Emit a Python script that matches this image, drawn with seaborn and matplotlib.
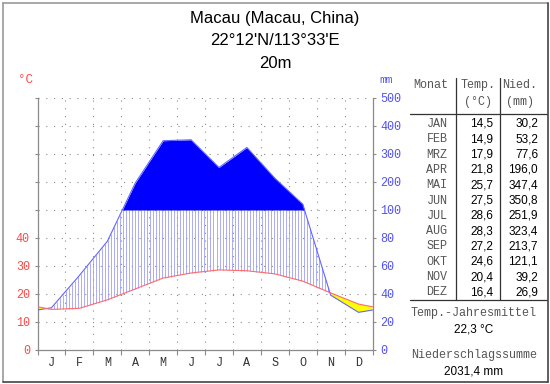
import numpy as np
import pandas as pd
import seaborn as sns
import matplotlib.pyplot as plt

# climate data for Macau
monate = ['JAN', 'FEB', 'MRZ', 'APR', 'MAI', 'JUN', 'JUL', 'AUG', 'SEP', 'OKT', 'NOV', 'DEZ']
buchstaben = ['J', 'F', 'M', 'A', 'M', 'J', 'J', 'A', 'S', 'O', 'N', 'D']
temp = [14.5, 14.9, 17.9, 21.8, 25.7, 27.5, 28.6, 28.3, 27.2, 24.6, 20.4, 16.4]
nied = [30.2, 53.2, 77.6, 196.0, 347.4, 350.8, 251.9, 323.4, 213.7, 121.1, 39.2, 26.9]
titel = ['Macau (Macau, China)', "22°12'N/113°33'E", '20m']
temp_ticks = [0, 10, 20, 30, 40]
mm_ticks = [0, 20, 40, 60, 80, 100, 200, 300, 400, 500]

ROT = '#ff4848'
BLAU = '#5050ff'
GRAU = '#8a8a8a'
MONO = 'Liberation Mono'
SANS = 'Liberation Sans'


def skala(p):
    # 2 mm = 1 °C up to 100 mm, above that 10 mm = 1 °C
    p = np.asarray(p, dtype=float)
    return np.where(p <= 100, p / 2, 50 + (p - 100) / 10)


# extend to the edges (mean of Dec and Jan)
x = np.concatenate([[0], np.arange(12) + 0.5, [12]])
t_ext = np.concatenate([[(temp[0] + temp[-1]) / 2], temp, [(temp[0] + temp[-1]) / 2]])
p_ext = skala(np.concatenate([[(nied[0] + nied[-1]) / 2], nied, [(nied[0] + nied[-1]) / 2]]))
df = pd.DataFrame({'x': x, 'temp': t_ext, 'nied': p_ext})

xf = np.linspace(0, 12, 2401)
tf = np.interp(xf, x, t_ext)
pf = np.interp(xf, x, p_ext)

sns.set_style('white')
fig = plt.figure(figsize=(5.5, 3.84), dpi=100)

bg = fig.add_axes([0, 0, 1, 1])
bg.set_xlim(0, 550)
bg.set_ylim(384, 0)
bg.axis('off')

ax = fig.add_axes([37.5 / 550, 34 / 384, 335 / 550, 252 / 384])
ax.set_xlim(0, 12)
ax.set_ylim(0, 90)
ax.patch.set_alpha(0)

# dotted grid
for yy in range(10, 91, 10):
    ax.axhline(yy, color=GRAU, lw=0.8, dashes=(1, 6), zorder=0)
for xx in range(1, 12):
    ax.axvline(xx, color=GRAU, lw=0.8, dashes=(1, 6), zorder=0)

# humid period hatching
xs = np.arange(0.04, 12, 0.108)
ts = np.interp(xs, x, t_ext)
ps = np.minimum(np.interp(xs, x, p_ext), 50)
m = ps > ts
ax.vlines(xs[m], ts[m], ps[m], color='#9494ff', lw=0.55, zorder=1)

# perhumid part above 100 mm
ax.fill_between(xf, 50, pf, where=pf > 50, color='#0000ff', lw=0, zorder=2)
# arid period
ax.fill_between(xf, pf, tf, where=tf > pf, color='#ffff00', lw=0, zorder=2)

sns.lineplot(data=df, x='x', y='nied', color='#6464ff', lw=0.8, ax=ax, zorder=3)
sns.lineplot(data=df, x='x', y='temp', color='#ff6a6a', lw=0.8, ax=ax, zorder=4)
ax.set_xlabel('')
ax.set_ylabel('')

for s in ['left', 'bottom', 'right']:
    ax.spines[s].set_color(GRAU)
    ax.spines[s].set_linewidth(0.9)
ax.spines['top'].set_visible(False)

ax.set_xticks(range(13))
ax.set_xticklabels([])
ax.set_xticks(np.arange(12) + 0.5, minor=True)
ax.set_xticklabels(buchstaben, minor=True, fontfamily=MONO, fontsize=8.5, color='#333333')
ax.tick_params(axis='x', which='major', direction='out', length=3.5, width=0.8, color=GRAU, bottom=True)
ax.tick_params(axis='x', which='minor', length=0, pad=5, bottom=True)

ax.set_yticks(range(0, 91, 10))
ax.set_yticklabels([str(v) for v in temp_ticks] + [''] * 5, fontfamily=MONO, fontsize=8.5, color=ROT)
ax.tick_params(axis='y', direction='out', length=2.5, width=0.8, color=GRAU, pad=3, left=True)

ax2 = ax.twinx()
ax2.set_ylim(0, 90)
ax2.set_yticks(range(0, 91, 10))
ax2.set_yticklabels([str(v) for v in mm_ticks], fontfamily=MONO, fontsize=8.5, color=BLAU)
ax2.tick_params(axis='y', direction='out', length=2.5, width=0.8, color=GRAU, pad=3, right=True)
for s in ax2.spines.values():
    s.set_visible(False)

# titles and axis units
for i, zeile in enumerate(titel):
    bg.text(275, 18 + i * 22.5, zeile, ha='center', va='center', fontsize=12, fontfamily=SANS, color='black')
bg.text(25, 80, '°C', ha='center', va='center', fontsize=9, fontfamily=MONO, color=ROT)
bg.text(386, 80, 'mm', ha='center', va='center', fontsize=8, fontfamily=MONO, color=BLAU)

# table
gc = '#555555'
bg.text(431, 85, 'Monat', ha='center', va='center', fontsize=8.5, fontfamily=MONO, color=gc)
bg.text(478, 85, 'Temp.', ha='center', va='center', fontsize=8.5, fontfamily=MONO, color=gc)
bg.text(478, 102, '(°C)', ha='center', va='center', fontsize=8.5, fontfamily=MONO, color=gc)
bg.text(520, 85, 'Nied.', ha='center', va='center', fontsize=8.5, fontfamily=MONO, color=gc)
bg.text(520, 102, '(mm)', ha='center', va='center', fontsize=8.5, fontfamily=MONO, color=gc)
bg.plot([410, 547], [114, 114], color='#333333', lw=0.9)
bg.plot([410, 547], [300, 300], color='#333333', lw=0.9)
bg.plot([456, 456], [78, 300], color='#333333', lw=0.9)
bg.plot([500, 500], [78, 300], color='#333333', lw=0.9)
for i in range(12):
    yy = 124 + i * 15.3
    bg.text(437, yy, monate[i], ha='center', va='center', fontsize=8.5, fontfamily=MONO, color=gc)
    bg.text(493, yy, f'{temp[i]:.1f}'.replace('.', ','), ha='right', va='center', fontsize=8.5, fontfamily=SANS, color='black')
    bg.text(538, yy, f'{nied[i]:.1f}'.replace('.', ','), ha='right', va='center', fontsize=8.5, fontfamily=SANS, color='black')

mittel = np.mean(temp)
summe = np.sum(nied)
bg.text(474, 313, 'Temp.-Jahresmittel', ha='center', va='center', fontsize=8.5, fontfamily=MONO, color=gc)
bg.text(474, 330, f'{mittel:.1f} °C'.replace('.', ','), ha='center', va='center', fontsize=8.5, fontfamily=SANS, color='black')
bg.text(474, 355, 'Niederschlagssumme', ha='center', va='center', fontsize=8.5, fontfamily=MONO, color=gc)
bg.text(474, 372, f'{summe:.1f} mm'.replace('.', ','), ha='center', va='center', fontsize=8.5, fontfamily=SANS, color='black')

# frame
bg.plot([2.5, 547.5], [2.5, 2.5], color='#999999', lw=1.2)
bg.plot([2.5, 2.5], [2.5, 381.5], color='#999999', lw=1.2)
bg.plot([547.5, 547.5], [2.5, 381.5], color='#444444', lw=1.2)
bg.plot([2.5, 547.5], [381.5, 381.5], color='#444444', lw=1.2)

fig.savefig('out.png', dpi=100)
